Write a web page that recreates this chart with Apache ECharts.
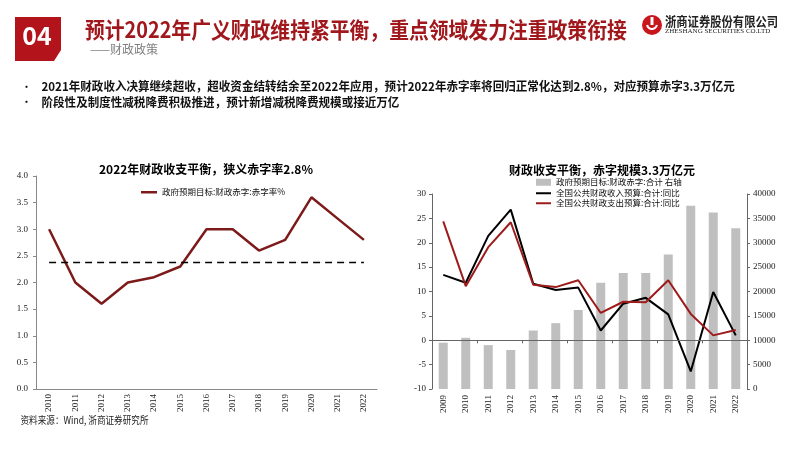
<!DOCTYPE html>
<html>
<head>
<meta charset="utf-8">
<script src="https://cdn.jsdelivr.net/npm/echarts@6/dist/echarts.min.js"></script>
<style>
html,body{margin:0;padding:0;background:#fff;}
#c{width:800px;height:450px;}
</style>
</head>
<body>
<div id="c"></div>
<script>
// ---- data ----
const years1 = ['2010','2011','2012','2013','2014','2015','2016','2017','2018','2019','2020','2021','2022'];
const deficitRate = [3.0, 2.0, 1.6, 2.0, 2.1, 2.3, 3.0, 3.0, 2.6, 2.8, 3.6, 3.2, 2.8];
const avgRate = 2.38;
const years2 = ['2009','2010','2011','2012','2013','2014','2015','2016','2017','2018','2019','2020','2021','2022'];
const deficitScale = [9500, 10500, 9000, 8000, 12000, 13500, 16200, 21800, 23800, 23800, 27600, 37600, 36200, 33000];
const revenueYoY = [13.4, 11.8, 21.4, 26.8, 11.6, 10.3, 10.8, 2.0, 7.5, 8.7, 5.3, -6.4, 9.9, 1.0];
const expenseYoY = [24.4, 11.1, 19.1, 24.2, 11.4, 10.9, 12.3, 5.6, 7.9, 7.8, 12.3, 5.4, 1.0, 2.1];
const nameRate = '政府预期目标:财政赤字:赤字率%';
const nameBar = '政府预期目标:财政赤字:合计 右轴';
const nameRev = '全国公共财政收入预算:合计:同比';
const nameExp = '全国公共财政支出预算:合计:同比';

const CJK = 'Noto Sans CJK SC';
const SERIF = 'Liberation Serif';
const axisLbl = {fontFamily: SERIF, fontSize: 9, color: '#222'};

const chart = echarts.init(document.getElementById('c'), null, {renderer: 'canvas'});
const legendBase = {
  orient: 'horizontal', icon: 'rect', itemWidth: 15, padding: 0,
  textStyle: {fontFamily: CJK, fontSize: 8.5, color: '#111'},
  selectedMode: false
};
const option = {
  backgroundColor: '#fff',
  animation: false,
  title: [
    {text: '2022年财政收支平衡，狭义赤字率2.8%', left: 201, top: 158, textAlign: 'center',
      textStyle: {fontFamily: CJK, fontSize: 12, fontWeight: 'bold', color: '#000'}},
    {text: '财政收支平衡，赤字规模3.3万亿元', left: 597, top: 159, textAlign: 'center',
      textStyle: {fontFamily: CJK, fontSize: 12, fontWeight: 'bold', color: '#000'}}
  ],
  legend: [
    Object.assign({}, legendBase, {data: [nameRate], left: 141, top: 188, itemWidth: 16, itemHeight: 2.5}),
    Object.assign({}, legendBase, {data: [nameBar], left: 536, top: 178, itemHeight: 7}),
    Object.assign({}, legendBase, {data: [nameRev], left: 536, top: 189, itemHeight: 2}),
    Object.assign({}, legendBase, {data: [nameExp], left: 536, top: 199, itemHeight: 2})
  ],
  grid: [
    {left: 36, top: 176, width: 341, height: 213},
    {left: 432, top: 194, width: 315, height: 195}
  ],
  xAxis: [
    {gridIndex: 0, type: 'category', data: years1,
      axisLine: {lineStyle: {color: '#888'}},
      axisTick: {length: 3, lineStyle: {color: '#888'}},
      axisLabel: Object.assign({rotate: 90, margin: 5}, axisLbl)},
    {gridIndex: 1, type: 'category', data: years2, position: 'bottom',
      axisLine: {show: false, onZero: false}, axisTick: {show: false},
      axisLabel: Object.assign({rotate: 90, margin: 6}, axisLbl)},
    {gridIndex: 1, type: 'category', data: years2, position: 'bottom', z: 5,
      axisLine: {show: true, onZero: true, onZeroAxisIndex: 1, lineStyle: {color: '#666'}},
      axisTick: {show: true, length: 3, lineStyle: {color: '#666'}},
      axisLabel: {show: false}}
  ],
  yAxis: [
    {gridIndex: 0, type: 'value', min: 0, max: 4, interval: 0.5,
      axisLine: {show: true, lineStyle: {color: '#888'}},
      axisTick: {show: true, length: 3, lineStyle: {color: '#888'}},
      splitLine: {show: false},
      axisLabel: Object.assign({margin: 8, formatter: v => v.toFixed(1)}, axisLbl)},
    {gridIndex: 1, type: 'value', min: -10, max: 30, interval: 5, position: 'left',
      axisLine: {show: true, onZero: false, lineStyle: {color: '#666'}},
      axisTick: {show: true, length: 3, lineStyle: {color: '#666'}},
      splitLine: {show: false},
      axisLabel: Object.assign({margin: 6, formatter: v => String(v)}, axisLbl)},
    {gridIndex: 1, type: 'value', min: 0, max: 40000, interval: 5000, position: 'right',
      axisLine: {show: true, onZero: false, lineStyle: {color: '#666'}},
      axisTick: {show: true, length: 3, lineStyle: {color: '#666'}},
      splitLine: {show: false},
      axisLabel: Object.assign({margin: 6, formatter: v => String(v)}, axisLbl)}
  ],
  series: [
    {name: nameRate, type: 'line', xAxisIndex: 0, yAxisIndex: 0, data: deficitRate,
      symbol: 'none', color: '#7d1a1a', lineStyle: {color: '#7d1a1a', width: 2.5},
      markLine: {silent: true, symbol: 'none', label: {show: false},
        lineStyle: {color: '#000', type: [7, 5], width: 1.4},
        data: [[{coord: [years1[0], avgRate]}, {coord: [years1[years1.length - 1], avgRate]}]]}},
    {name: nameBar, type: 'bar', xAxisIndex: 1, yAxisIndex: 2, data: deficitScale,
      barWidth: 9, color: '#bfbfbf', itemStyle: {color: '#bfbfbf'}},
    {name: nameRev, type: 'line', xAxisIndex: 1, yAxisIndex: 1, data: revenueYoY,
      symbol: 'none', color: '#000', lineStyle: {color: '#000', width: 2}, z: 3},
    {name: nameExp, type: 'line', xAxisIndex: 1, yAxisIndex: 1, data: expenseYoY,
      symbol: 'none', color: '#9e1b1b', lineStyle: {color: '#9e1b1b', width: 2}, z: 4}
  ],
  graphic: [
    {type: 'polygon', shape: {points: [[15, 17], [61, 17], [61, 50], [54, 61], [15, 61]]},
      style: {fill: '#b3141b'}},
    {type: 'text', x: 37, y: 35, style: {text: '04', fill: '#fff', font: 'bold 25px "Noto Sans CJK SC"',
      align: 'center', verticalAlign: 'middle'}},
    {type: 'text', x: 85, y: 30, scaleX: 0.9,
      style: {text: '预计2022年广义财政维持紧平衡，重点领域发力注重政策衔接', fill: '#a0171c',
        font: 'bold 22px "Noto Sans CJK SC"', verticalAlign: 'middle'}},
    {type: 'text', x: 90, y: 49,
      style: {text: '——财政政策', fill: '#808080', font: '12px "Noto Sans CJK SC"', verticalAlign: 'middle'}},
    {type: 'circle', shape: {cx: 652, cy: 25, r: 10}, style: {fill: '#c8161d'}},
    {type: 'arc', shape: {cx: 652, cy: 24, r: 5, startAngle: 0.2, endAngle: Math.PI - 0.2},
      style: {stroke: '#fff', lineWidth: 2, fill: 'none'}},
    {type: 'rect', shape: {x: 650.5, y: 17, width: 3, height: 8}, style: {fill: '#fff'}},
    {type: 'text', x: 665, y: 21.5, scaleX: 0.87,
      style: {text: '浙商证券股份有限公司', fill: '#222', font: 'bold 13px "Noto Sans CJK SC"', verticalAlign: 'middle'}},
    {type: 'text', x: 665, y: 31.5,
      style: {text: 'ZHESHANG SECURITIES CO.LTD', fill: '#222', font: '7px "Liberation Serif"', verticalAlign: 'middle'}},
    {type: 'text', x: 21, y: 86.5,
      style: {text: '•', fill: '#111', font: '11px "Noto Sans CJK SC"', verticalAlign: 'middle'}},
    {type: 'text', x: 41.5, y: 86.5, scaleX: 0.962,
      style: {text: '2021年财政收入决算继续超收，超收资金结转结余至2022年应用，预计2022年赤字率将回归正常化达到2.8%，对应预算赤字3.3万亿元',
        fill: '#111', font: 'bold 12px "Noto Sans CJK SC"', verticalAlign: 'middle'}},
    {type: 'text', x: 21, y: 102,
      style: {text: '•', fill: '#111', font: '11px "Noto Sans CJK SC"', verticalAlign: 'middle'}},
    {type: 'text', x: 41.5, y: 102, scaleX: 0.962,
      style: {text: '阶段性及制度性减税降费积极推进，预计新增减税降费规模或接近万亿',
        fill: '#111', font: 'bold 12px "Noto Sans CJK SC"', verticalAlign: 'middle'}},
    {type: 'text', x: 20.5, y: 420, scaleX: 0.86,
      style: {text: '资料来源：Wind, 浙商证券研究所', fill: '#222', font: '10px "Noto Sans CJK SC"', verticalAlign: 'middle'}}
  ]
};
chart.setOption(option);
</script>
</body>
</html>
